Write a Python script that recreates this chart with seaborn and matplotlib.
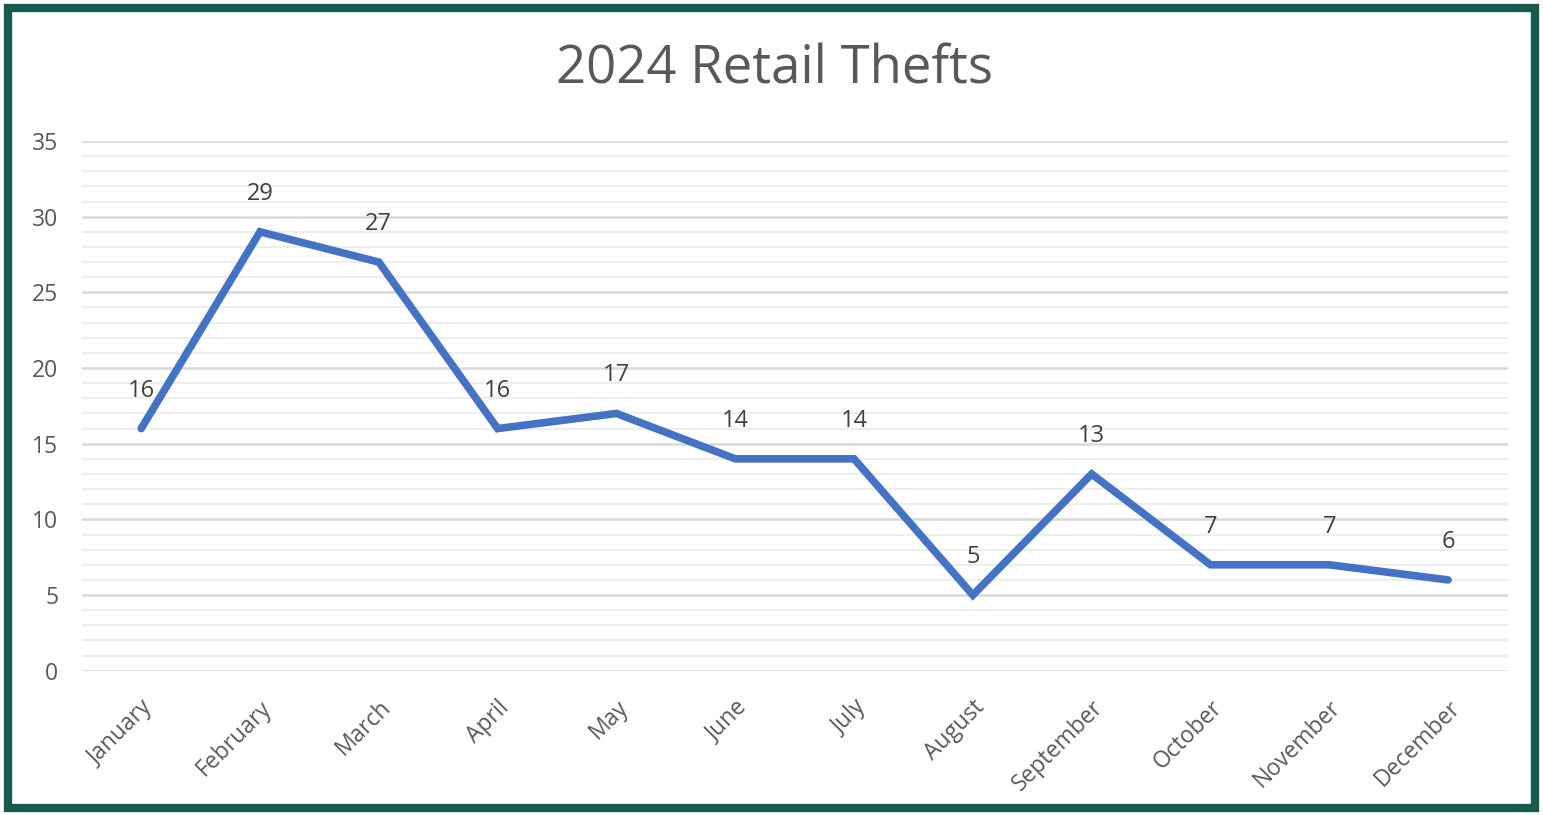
import numpy as np
import pandas as pd
import matplotlib
matplotlib.use("Agg")
import matplotlib.pyplot as plt
import seaborn as sns
from matplotlib.patches import Rectangle

months = ["January", "February", "March", "April", "May", "June",
          "July", "August", "September", "October", "November", "December"]
thefts = [16, 29, 27, 16, 17, 14, 14, 5, 13, 7, 7, 6]

d = pd.DataFrame({"Month": months, "Thefts": thefts})
d["pos"] = np.arange(len(months))

sns.set_style("white")
plt.rcParams["font.family"] = ["Open Sans", "DejaVu Sans"]

fig = plt.figure(figsize=(15.43, 8.15), dpi=100)
ax = fig.add_axes([0.053, 0.177, 0.924, 0.65])

sns.lineplot(x="pos", y="Thefts", data=d, ax=ax, color="#4472C4", linewidth=5.5,
             solid_joinstyle="miter", solid_capstyle="round")

# data labels above each point
for x, y in zip(d["pos"], d["Thefts"]):
    ax.annotate(str(y), (x, y), xytext=(0, 38), textcoords="offset pixels",
                ha="center", va="center", fontsize=17, color="#404040")

ax.set_xlim(-0.5, 11.5)
ax.set_ylim(0, 35)
ax.set_yticks(np.arange(0, 36, 5))
ax.set_yticks(np.arange(0, 36, 1), minor=True)
ax.set_xticks(d["pos"])
ax.set_xticklabels(months, rotation=45, ha="right", rotation_mode="anchor")
ax.grid(axis="y", which="major", color="#d9d9d9", linewidth=1.8)
ax.grid(axis="y", which="minor", color="#eeeeee", linewidth=1.6)
ax.set_axisbelow(True)
ax.tick_params(axis="both", which="both", length=0, labelsize=16.5, labelcolor="#595959")
ax.tick_params(axis="y", pad=17)
ax.tick_params(axis="x", pad=18)
for s in ax.spines.values():
    s.set_visible(False)
ax.set_xlabel("")
ax.set_ylabel("")

fig.text(0.502, 0.915, "2024 Retail Thefts", ha="center", va="center",
         fontsize=38, color="#595959")

fig.patches.append(Rectangle((0.005, 0.008), 0.99, 0.982, transform=fig.transFigure,
                             fill=False, edgecolor="#17594d", linewidth=6))

plt.savefig("out.png", dpi=100)
